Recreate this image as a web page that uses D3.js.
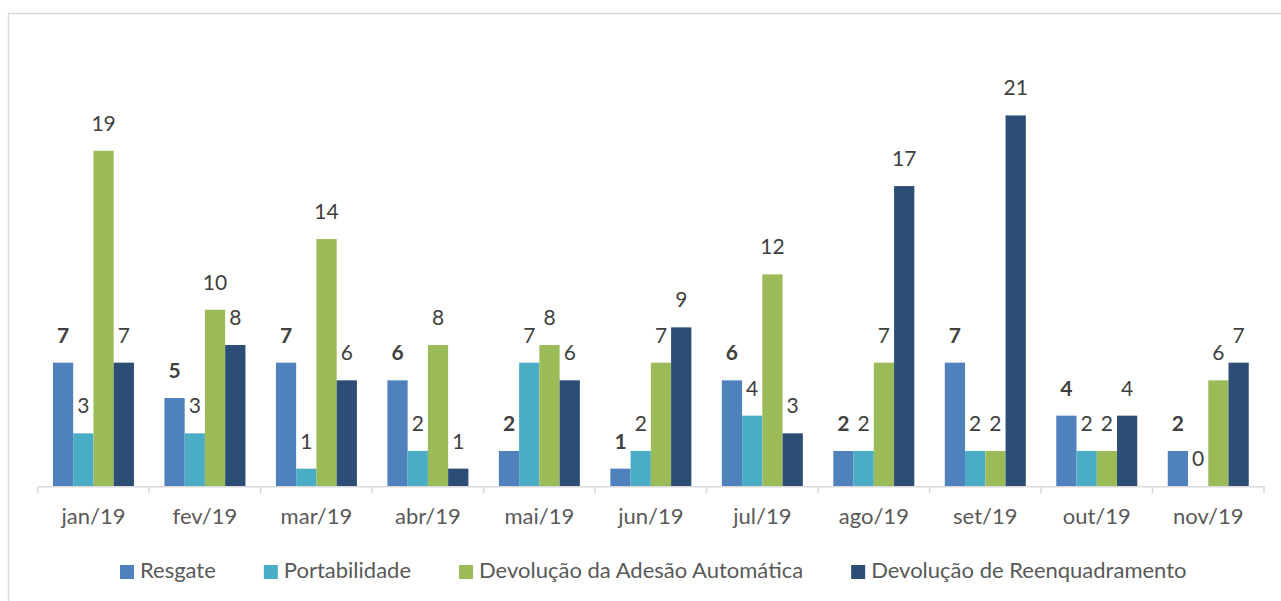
<!DOCTYPE html>
<html><head><meta charset="utf-8">
<script src="https://cdn.jsdelivr.net/npm/d3@7"></script>
<style>body{margin:0;background:#fff;}svg{display:block;font-family:Lato,"Open Sans",sans-serif;}</style>
</head><body>
<script>
const categories = ["jan/19","fev/19","mar/19","abr/19","mai/19","jun/19","jul/19","ago/19","set/19","out/19","nov/19"];
const seriesNames = ["Resgate","Portabilidade","Devolução da Adesão Automática","Devolução de Reenquadramento"];
const resgate = [7,5,7,6,2,1,6,2,7,4,2];
const portabilidade = [3,3,1,2,7,2,4,2,2,2,0];
const adesao = [19,10,14,8,8,7,12,7,2,2,6];
const reenquadramento = [7,8,6,1,6,9,3,17,21,4,7];
const colors = ["#4F81BD","#4BACC6","#9BBB59","#2C4D75"];
const series = [resgate, portabilidade, adesao, reenquadramento];

const W = 1281, H = 601;
const svg = d3.select("body").append("svg").attr("width", W).attr("height", H);
svg.append("rect").attr("x",8.5).attr("y",13.5).attr("width",W+10).attr("height",H+10)
  .attr("fill","none").attr("stroke","#D9D9D9").attr("stroke-width",1.5);

const x0 = d3.scaleBand().domain(categories).range([37.7,1264]).paddingInner(0).paddingOuter(0);
const groupW = 81;
const x1 = d3.scaleBand().domain(d3.range(4)).range([0,groupW]);
const y = d3.scaleLinear().domain([0,25]).range([486.3,486.3-25*17.66]);

const g = svg.append("g");
categories.forEach((c,i)=>{
  const gx = x0(c) + (x0.bandwidth()-groupW)/2;
  series.forEach((s,k)=>{
    const v = s[i];
    g.append("rect").attr("x",gx+x1(k)).attr("y",y(v)).attr("width",x1.bandwidth())
      .attr("height",y(0)-y(v)).attr("fill",colors[k]);
    g.append("text").attr("x",gx+x1(k)+x1.bandwidth()/2).attr("y",y(v)-20)
      .attr("text-anchor","middle").attr("font-size",21)
      .attr("font-weight",k===0?"bold":"normal").attr("fill","#404040").text(v);
  });
});

// axis
const axis = d3.axisBottom(x0).tickSize(0).tickSizeOuter(0);
const ag = svg.append("g").attr("transform",`translate(0,${y(0)})`).call(axis);
ag.select(".domain").attr("stroke","#D9D9D9").attr("stroke-width",1.5);
ag.selectAll("text").attr("font-size",22).attr("fill","#595959").attr("dy",0).attr("y",38)
  .attr("font-family","Lato,sans-serif");
const bounds = categories.map(c=>x0(c)).concat([x0(categories[categories.length-1])+x0.bandwidth()]);
ag.selectAll(".bnd").data(bounds).enter().append("line").attr("class","bnd")
  .attr("x1",d=>d).attr("x2",d=>d).attr("y1",0).attr("y2",7).attr("stroke","#D9D9D9").attr("stroke-width",1.5);

// legend
const lg = svg.append("g").attr("transform","translate(120,0)");
let lx = 0;
seriesNames.forEach((n,k)=>{
  lg.append("rect").attr("x",lx).attr("y",565).attr("width",14).attr("height",14).attr("fill",colors[k]);
  const t = lg.append("text").attr("x",lx+20).attr("y",578).attr("font-size",22).attr("fill","#595959").text(n);
  lx += 20 + t.node().getComputedTextLength() + 48;
});
</script>
</body></html>
